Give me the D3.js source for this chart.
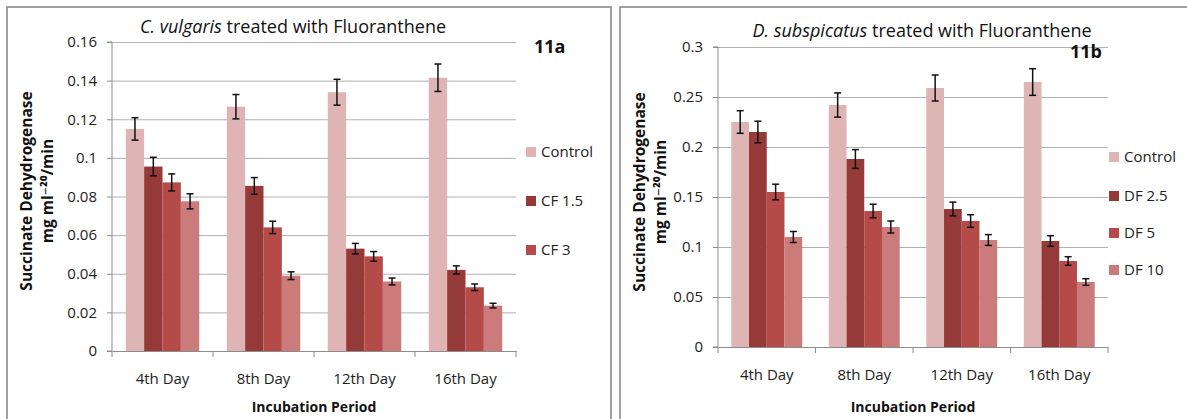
<!DOCTYPE html>
<html>
<head>
<meta charset="utf-8">
<script src="https://cdn.jsdelivr.net/npm/d3@7"></script>
<style>
  html, body { margin: 0; padding: 0; background: #fff; }
  svg { display: block; font-family: "Open Sans", "DejaVu Sans", sans-serif; }
</style>
</head>
<body>
<svg id="chart" width="1187" height="419"></svg>
<script>
// ---------------- DATA ----------------
const categories = ["4th Day", "8th Day", "12th Day", "16th Day"];

// Panel 11a: C. vulgaris
const leftSeriesNames = ["Control", "CF 1.5", "CF 3", "CF 6"];
const leftLegendNames = ["Control", "CF 1.5", "CF 3"];
const leftControl = [0.115, 0.1265, 0.134, 0.1415];
const leftCF15    = [0.0955, 0.0855, 0.053, 0.042];
const leftCF3     = [0.0873, 0.064, 0.049, 0.033];
const leftCF6     = [0.0775, 0.039, 0.036, 0.0235];
const leftControlErr = [0.0058, 0.0063, 0.0067, 0.0071];
const leftCF15Err    = [0.0048, 0.0043, 0.0027, 0.0021];
const leftCF3Err     = [0.0044, 0.0032, 0.0025, 0.0017];
const leftCF6Err     = [0.0039, 0.0020, 0.0018, 0.0012];
const leftTicks      = [0, 0.02, 0.04, 0.06, 0.08, 0.1, 0.12, 0.14, 0.16];
const leftTickLabels = ["0", "0.02", "0.04", "0.06", "0.08", "0.1", "0.12", "0.14", "0.16"];

// Panel 11b: D. subspicatus
const rightSeriesNames = ["Control", "DF 2.5", "DF 5", "DF 10"];
const rightLegendNames = ["Control", "DF 2.5", "DF 5", "DF 10"];
const rightControl = [0.225, 0.242, 0.259, 0.265];
const rightDF25    = [0.215, 0.188, 0.138, 0.106];
const rightDF5     = [0.155, 0.136, 0.126, 0.086];
const rightDF10    = [0.110, 0.120, 0.107, 0.065];
const rightControlErr = [0.0113, 0.0121, 0.0130, 0.0133];
const rightDF25Err    = [0.0108, 0.0094, 0.0069, 0.0053];
const rightDF5Err     = [0.0078, 0.0068, 0.0063, 0.0043];
const rightDF10Err    = [0.0055, 0.0060, 0.0054, 0.0033];
const rightTicks      = [0, 0.05, 0.1, 0.15, 0.2, 0.25, 0.3];
const rightTickLabels = ["0", "0.05", "0.1", "0.15", "0.2", "0.25", "0.3"];

const seriesColors = ["#DFB4B4", "#963A39", "#B44B49", "#CB7B7A"];

// ---------------- DRAW ----------------
const svg = d3.select("#chart");

function panel(cfg) {
  const g = svg.append("g");

  // outer frame
  g.append("rect")
    .attr("x", cfg.frame[0]).attr("y", cfg.frame[1])
    .attr("width", cfg.frame[2]).attr("height", cfg.frame[3])
    .attr("fill", "#fff").attr("stroke", "#8a8a8a").attr("stroke-width", 1.6);

  const x = d3.scaleBand().domain(categories).range([cfg.x0, cfg.x1]).paddingInner(0).paddingOuter(0);
  const xs = d3.scaleBand().domain(cfg.names).range([0, x.bandwidth()]).paddingInner(0).paddingOuter(0.75);
  const y = d3.scaleLinear().domain(cfg.domain).range([cfg.y0, cfg.y1]);

  // gridlines
  g.append("g")
    .attr("transform", `translate(${cfg.x0},0)`)
    .call(d3.axisLeft(y).tickValues(cfg.ticks.filter(t => t > 0)).tickSize(-(cfg.x1 - cfg.x0)).tickFormat(""))
    .call(s => s.select(".domain").remove())
    .call(s => s.selectAll("line").attr("stroke", "#b0b0b0").attr("stroke-width", 1));

  // y axis
  const ya = g.append("g")
    .attr("transform", `translate(${cfg.x0},0)`)
    .call(d3.axisLeft(y).tickValues(cfg.ticks).tickSize(5).tickPadding(10)
      .tickFormat((d, i) => cfg.tickLabels[i]));
  ya.select(".domain").attr("stroke", "#8c8c8c").attr("d", `M-5,${cfg.y0}H0V${cfg.y1}H-5`);
  ya.selectAll("line").attr("stroke", "#8c8c8c");
  ya.selectAll("text").attr("font-size", 15).attr("fill", "#222")
    .attr("font-family", "'Open Sans', sans-serif");

  // bars
  const seriesData = cfg.values.map((vals, si) => vals.map((v, ci) => ({
    s: cfg.names[si], si, c: categories[ci], v, e: cfg.errs[si][ci]
  })));
  const flat = seriesData.flat();

  g.append("g").selectAll("rect").data(flat).join("rect")
    .attr("x", d => x(d.c) + xs(d.s))
    .attr("y", d => y(d.v))
    .attr("width", xs.bandwidth())
    .attr("height", d => y(0) - y(d.v))
    .attr("fill", d => seriesColors[d.si]);

  // x axis line and boundary ticks
  const xa = g.append("g").attr("transform", `translate(0,${cfg.y0})`)
    .call(d3.axisBottom(x).tickSize(0).tickPadding(cfg.labelPad));
  xa.select(".domain").attr("stroke", "#8c8c8c");
  xa.selectAll("text").attr("font-size", 15).attr("fill", "#222")
    .attr("font-family", "'Open Sans', sans-serif");
  const bounds = categories.map(c => x(c)).concat([x(categories[categories.length - 1]) + x.bandwidth()]);
  g.append("g").selectAll("line").data(bounds).join("line")
    .attr("x1", d => d).attr("x2", d => d)
    .attr("y1", cfg.y0).attr("y2", cfg.y0 + 6)
    .attr("stroke", "#8c8c8c");

  // error bars
  const eb = g.append("g").attr("stroke", "#111").attr("stroke-width", 1.5);
  flat.forEach(d => {
    const cx = x(d.c) + xs(d.s) + xs.bandwidth() / 2;
    const yt = y(d.v + d.e), yb = y(d.v - d.e);
    eb.append("line").attr("x1", cx).attr("x2", cx).attr("y1", yt).attr("y2", yb);
    eb.append("line").attr("x1", cx - 3.5).attr("x2", cx + 3.5).attr("y1", yt).attr("y2", yt);
    eb.append("line").attr("x1", cx - 3.5).attr("x2", cx + 3.5).attr("y1", yb).attr("y2", yb);
  });

  // title
  const t = g.append("text")
    .attr("x", cfg.titleX).attr("y", cfg.titleY)
    .attr("text-anchor", "middle").attr("font-size", 18).attr("fill", "#111");
  t.append("tspan").attr("font-style", "italic").text(cfg.titleItalic);
  t.append("tspan").text(cfg.titleRest);

  // panel label
  g.append("text").attr("x", cfg.tagX).attr("y", cfg.tagY)
    .attr("font-size", 18).attr("font-weight", "bold").attr("fill", "#111").text(cfg.tag);

  // x title
  g.append("text").attr("x", (cfg.x0 + cfg.x1) / 2).attr("y", cfg.xTitleY)
    .attr("text-anchor", "middle").attr("font-size", 14).attr("font-weight", "bold")
    .attr("fill", "#111").text("Incubation Period");

  // y title (two lines)
  const yt = g.append("text")
    .attr("transform", `translate(${cfg.yTitleX},${cfg.yTitleY}) rotate(-90)`)
    .attr("text-anchor", "middle").attr("font-size", 15.5).attr("font-weight", "bold").attr("fill", "#111");
  yt.append("tspan").attr("x", 0).attr("y", 0).text("Succinate Dehydrogenase");
  yt.append("tspan").attr("x", 0).attr("y", 21).text("mg ml\u207B\u00B2\u2070/min");

  // legend
  const lg = g.append("g").selectAll("g").data(cfg.legend).join("g")
    .attr("transform", (d, i) => `translate(${cfg.legX},${cfg.legY[i]})`);
  lg.append("rect").attr("x", 0).attr("y", -5).attr("width", 10).attr("height", 10)
    .attr("fill", (d, i) => seriesColors[i]);
  lg.append("text").attr("x", 15).attr("y", 0).attr("dy", "0.35em")
    .attr("font-size", 15).attr("fill", "#222").text(d => d);
}

panel({
  frame: [7, 7, 604, 430],
  x0: 112, x1: 516, y0: 351, y1: 42,
  domain: [0, 0.16], ticks: leftTicks, tickLabels: leftTickLabels,
  names: leftSeriesNames, legend: leftLegendNames,
  values: [leftControl, leftCF15, leftCF3, leftCF6],
  errs: [leftControlErr, leftCF15Err, leftCF3Err, leftCF6Err],
  labelPad: 22,
  titleX: 293, titleY: 33, titleItalic: "C. vulgaris", titleRest: " treated with Fluoranthene",
  tag: "11a", tagX: 534, tagY: 53,
  xTitleY: 412,
  yTitleX: 32, yTitleY: 191,
  legX: 526, legY: [152, 201, 250]
});

panel({
  frame: [620, 7, 580, 430],
  x0: 718, x1: 1108, y0: 347, y1: 47,
  domain: [0, 0.3], ticks: rightTicks, tickLabels: rightTickLabels,
  names: rightSeriesNames, legend: rightLegendNames,
  values: [rightControl, rightDF25, rightDF5, rightDF10],
  errs: [rightControlErr, rightDF25Err, rightDF5Err, rightDF10Err],
  labelPad: 22,
  titleX: 922, titleY: 37, titleItalic: "D. subspicatus", titleRest: " treated with Fluoranthene",
  tag: "11b", tagX: 1070, tagY: 58,
  xTitleY: 412,
  yTitleX: 645, yTitleY: 192,
  legX: 1109, legY: [157, 196, 233, 270]
});
</script>
</body>
</html>
